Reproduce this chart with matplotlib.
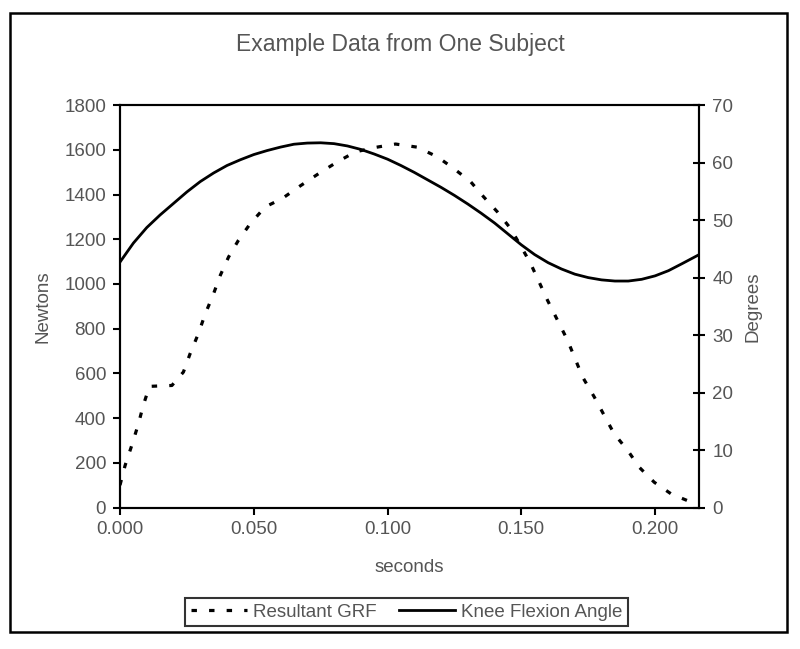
import matplotlib
matplotlib.use("Agg")
from matplotlib import pyplot as plt
from matplotlib.patches import Rectangle

# Resultant GRF (Newtons)
grf_t = [0.000, 0.0019, 0.0044, 0.0069, 0.0087, 0.0110, 0.0194, 0.0237,
         0.0262, 0.0293, 0.0318, 0.0349, 0.0375, 0.0406, 0.0443, 0.0487,
         0.0543, 0.0606, 0.0674, 0.0743, 0.0812, 0.0880, 0.0955, 0.1030,
         0.1111, 0.1186, 0.1247, 0.1311, 0.1359, 0.1411, 0.1460, 0.1498,
         0.1535, 0.1598, 0.1673, 0.1729, 0.1773, 0.1810, 0.1847, 0.1898,
         0.1941, 0.1997, 0.2060, 0.2135, 0.2160]
grf_n = [100, 188, 278, 375, 457, 542, 546, 606,
         688, 778, 864, 954, 1039, 1121, 1196, 1270,
         1345, 1382, 1439, 1494, 1546, 1591, 1611, 1626,
         1612, 1569, 1517, 1457, 1390, 1322, 1248, 1170,
         1091, 927, 748, 584, 494, 412, 330, 255,
         180, 113, 61, 24, 12]

# Knee flexion angle (degrees), solid curve
knee_t = [0.000, 0.005, 0.010, 0.015, 0.020, 0.025, 0.030, 0.035, 0.040,
          0.045, 0.050, 0.055, 0.060, 0.065, 0.070, 0.075, 0.080, 0.085,
          0.090, 0.095, 0.100, 0.105, 0.110, 0.115, 0.120, 0.125, 0.130,
          0.135, 0.140, 0.145, 0.150, 0.155, 0.160, 0.165, 0.170, 0.175,
          0.180, 0.185, 0.190, 0.195, 0.200, 0.205, 0.210, 0.2165]
knee_deg = [42.7, 46.0, 48.7, 50.9, 52.9, 54.9, 56.7, 58.2, 59.5,
            60.5, 61.4, 62.1, 62.7, 63.2, 63.4, 63.45, 63.3, 62.9,
            62.3, 61.5, 60.6, 59.5, 58.3, 57.0, 55.7, 54.3, 52.8,
            51.2, 49.5, 47.6, 45.7, 44.0, 42.6, 41.5, 40.6, 40.0,
            39.6, 39.4, 39.4, 39.7, 40.3, 41.2, 42.4, 44.0]

x_ticks = [0.0, 0.05, 0.10, 0.15, 0.20]
x_labels = ["0.000", "0.050", "0.100", "0.150", "0.200"]

txt = "#555555"
fs = 13.5
plt.rcParams['font.family'] = ['Liberation Sans', 'DejaVu Sans']

fig = plt.figure(figsize=(8, 6.49), dpi=100)
ax = fig.add_axes([0.150, 0.218, 0.724, 0.620])
ax2 = ax.twinx()

l1, = ax.plot(grf_t, grf_n, color='black', linewidth=2.3,
              linestyle=(0, (1.7, 3.8)), dash_capstyle='butt',
              label="Resultant GRF")
l2, = ax2.plot(knee_t, knee_deg, color='black', linewidth=2.0,
               label="Knee Flexion Angle")

ax.set_xlim(0, 0.2165)
ax.set_ylim(0, 1800)
ax2.set_ylim(0, 70)
ax.set_xticks(x_ticks)
ax.set_xticklabels(x_labels)
ax.set_yticks(range(0, 1801, 200))
ax2.set_yticks(range(0, 71, 10))

for a in (ax, ax2):
    for s in a.spines.values():
        s.set_linewidth(1.5)
ax.tick_params(axis='both', direction='out', length=5, width=1.5,
               labelsize=fs, labelcolor=txt, pad=5)
ax2.tick_params(axis='y', direction='inout', length=9, width=1.5,
                labelsize=fs, labelcolor=txt, pad=5)

ax.set_xlabel("seconds", fontsize=fs, color=txt, labelpad=15)
ax.set_ylabel("Newtons", fontsize=fs, color=txt, labelpad=9)
ax2.set_ylabel("Degrees", fontsize=fs, color=txt, labelpad=8)
fig.text(0.5, 1 - 45 / 649, "Example Data from One Subject",
         ha='center', va='center', fontsize=16.5, color=txt)

leg = fig.legend([l1, l2], ["Resultant GRF", "Knee Flexion Angle"],
                 loc='center', bbox_to_anchor=(0.508, 1 - 612 / 649),
                 ncol=2, fontsize=fs, frameon=True, fancybox=False,
                 handlelength=3.0, handletextpad=0.3, columnspacing=1.2,
                 borderpad=0.3, edgecolor='black')
leg.get_frame().set_linewidth(1.5)
for t in leg.get_texts():
    t.set_color(txt)

# outer border of the chart
fig.patches.append(Rectangle((10 / 800, 1 - 632 / 649), 777 / 800, 619 / 649,
                             transform=fig.transFigure, fill=False,
                             edgecolor='black', linewidth=1.8))

fig.savefig("out.png", dpi=100)
